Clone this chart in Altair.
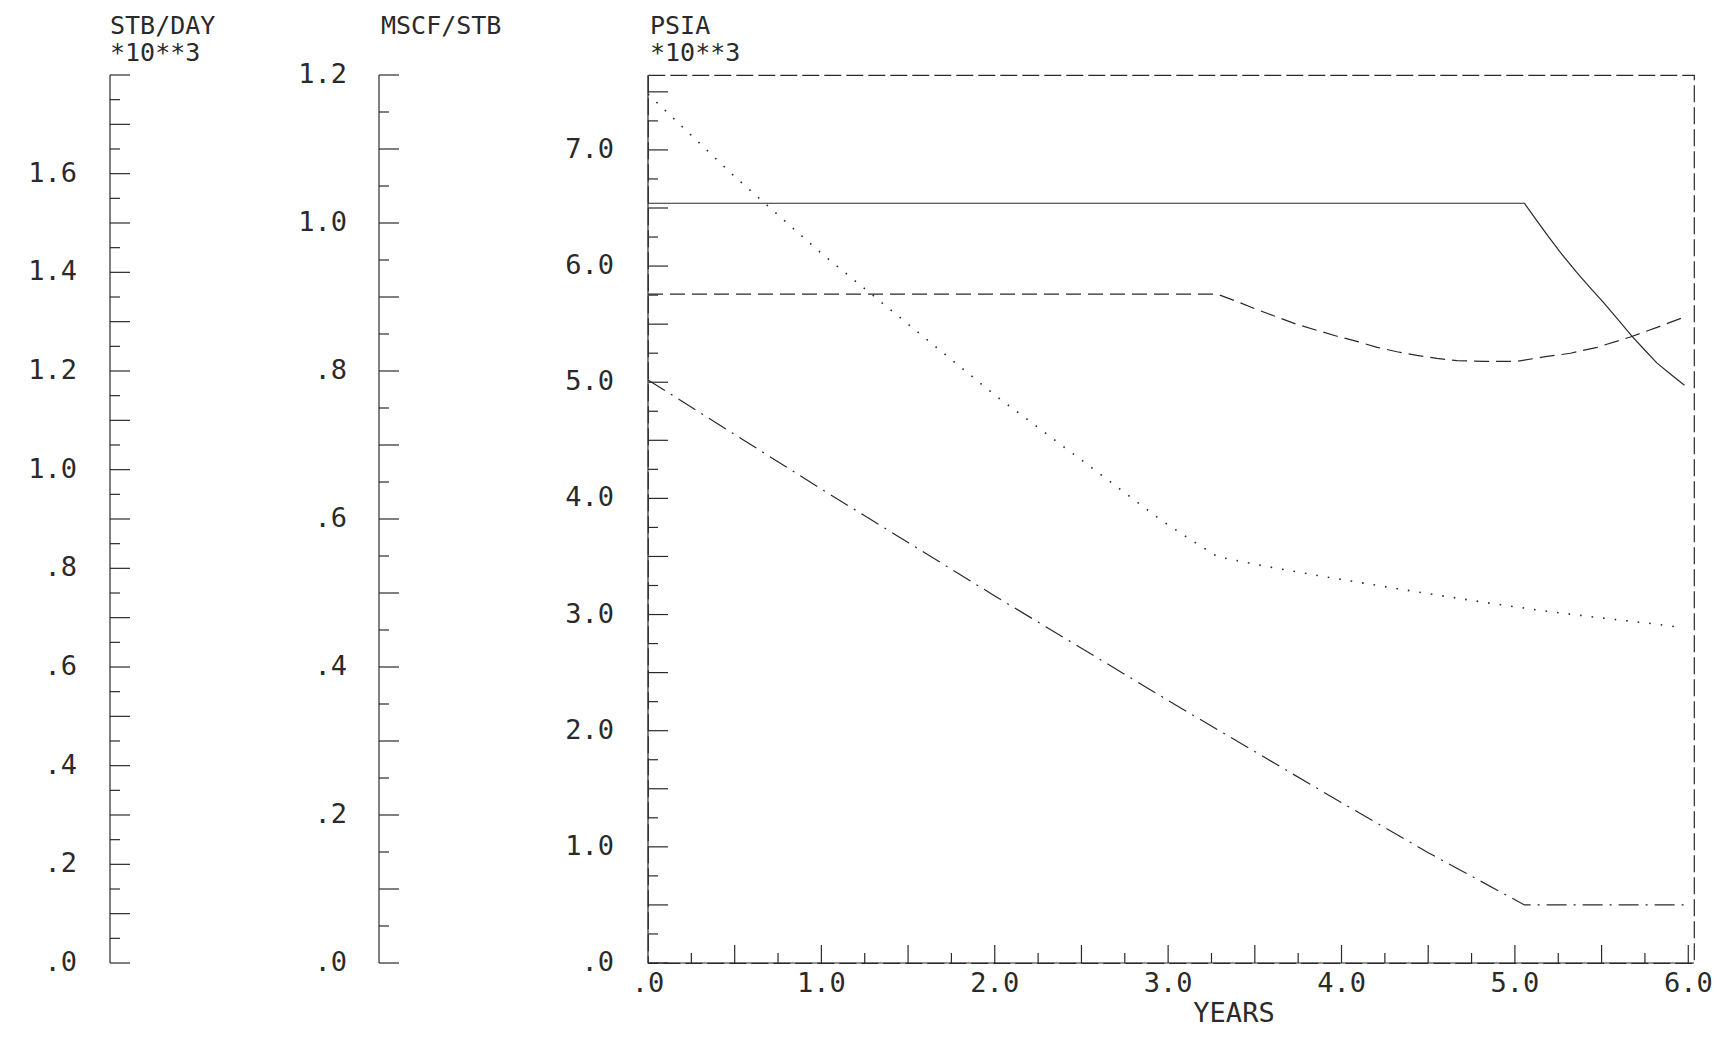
import altair as alt
import pandas as pd

# ---------------- data ----------------
# Oil rate, STB/DAY *10**3 (solid)
oil_years = [0.0, 5.055, 5.120, 5.186, 5.270, 5.359, 5.436, 5.513, 5.595, 5.676,
             5.750, 5.820, 5.900, 5.978]
oil_rate = [1.540, 1.540, 1.508, 1.476, 1.437, 1.399, 1.368, 1.338, 1.304, 1.270,
            1.242, 1.216, 1.193, 1.171]

# Gas-oil ratio, MSCF/STB (dashed)
gor_years = [0.0, 3.28, 3.397, 3.512, 3.628, 3.743, 3.858, 3.974, 4.089, 4.205,
             4.320, 4.435, 4.551, 4.666, 4.820, 5.012, 5.166, 5.320, 5.474,
             5.666, 5.820, 5.978]
gor_vals = [0.904, 0.904, 0.894, 0.883, 0.873, 0.863, 0.855, 0.847, 0.840, 0.832,
            0.826, 0.821, 0.817, 0.814, 0.813, 0.813, 0.819, 0.824, 0.832,
            0.846, 0.859, 0.873]

# Average pressure, PSIA *10**3 (dotted)
pres_years = [0.0, 0.5, 1.0, 1.5, 2.0, 2.5, 2.957, 3.120, 3.283, 3.538, 3.862,
              4.186, 4.507, 4.832, 5.155, 5.478, 5.801, 5.950]
pres_vals = [7.48, 6.77, 6.11, 5.50, 4.89, 4.33, 3.815, 3.654, 3.499, 3.422, 3.336,
             3.256, 3.178, 3.103, 3.034, 2.974, 2.920, 2.890]

# Bottom-hole pressure, PSIA *10**3 (dash-dot)
bhp_years = [0.0, 0.5, 1.0, 1.5, 2.0, 2.5, 3.0, 3.5, 4.0, 4.5, 5.055, 5.978]
bhp_vals = [5.02, 4.55, 4.08, 3.62, 3.16, 2.71, 2.26, 1.82, 1.38, 0.95, 0.50, 0.50]

# ---------------- axes: tick values and labels ----------------
x_label_values = [0, 1, 2, 3, 4, 5, 6]
x_labels = [".0", "1.0", "2.0", "3.0", "4.0", "5.0", "6.0"]
x_major_ticks = [0.5, 1.0, 1.5, 2.0, 2.5, 3.0, 3.5, 4.0, 4.5, 5.0, 5.5, 6.0]
x_minor_ticks = [0.25, 0.75, 1.25, 1.75, 2.25, 2.75, 3.25, 3.75, 4.25, 4.75, 5.25, 5.75]

psia_label_values = [0, 1, 2, 3, 4, 5, 6, 7]
psia_labels = [".0", "1.0", "2.0", "3.0", "4.0", "5.0", "6.0", "7.0"]
psia_major_ticks = [0.0, 0.5, 1.0, 1.5, 2.0, 2.5, 3.0, 3.5, 4.0, 4.5, 5.0, 5.5,
                    6.0, 6.5, 7.0, 7.5]
psia_minor_ticks = [0.25, 0.75, 1.25, 1.75, 2.25, 2.75, 3.25, 3.75, 4.25, 4.75,
                    5.25, 5.75, 6.25, 6.75, 7.25]

stb_label_values = [0.0, 0.2, 0.4, 0.6, 0.8, 1.0, 1.2, 1.4, 1.6]
stb_labels = [".0", ".2", ".4", ".6", ".8", "1.0", "1.2", "1.4", "1.6"]
stb_major_ticks = [0.0, 0.1, 0.2, 0.3, 0.4, 0.5, 0.6, 0.7, 0.8, 0.9, 1.0, 1.1,
                   1.2, 1.3, 1.4, 1.5, 1.6, 1.7, 1.8]
stb_minor_ticks = [0.05, 0.15, 0.25, 0.35, 0.45, 0.55, 0.65, 0.75, 0.85, 0.95,
                   1.05, 1.15, 1.25, 1.35, 1.45, 1.55, 1.65, 1.75]

mscf_label_values = [0.0, 0.2, 0.4, 0.6, 0.8, 1.0, 1.2]
mscf_labels = [".0", ".2", ".4", ".6", ".8", "1.0", "1.2"]
mscf_major_ticks = [0.0, 0.1, 0.2, 0.3, 0.4, 0.5, 0.6, 0.7, 0.8, 0.9, 1.0, 1.1, 1.2]
mscf_minor_ticks = [0.05, 0.15, 0.25, 0.35, 0.45, 0.55, 0.65, 0.75, 0.85, 0.95,
                    1.05, 1.15]

# ---------------- styling / layout ----------------
W, H = 1046, 888
INK = "#2a2a2a"
FONT = "DejaVu Sans Mono"
FS = 27
TFS = 25
LW = 1.2
LONG, SHORT = 20, 10
X_STB, X_MSCF = -538, -269   # positions of the two outboard axes

XS = alt.Scale(domain=[0, 6.033], nice=False, zero=False)
YS_STB = alt.Scale(domain=[0, 1.8], nice=False, zero=False)
YS_MSCF = alt.Scale(domain=[0, 1.2], nice=False, zero=False)
YS_PSIA = alt.Scale(domain=[0, 7.645], nice=False, zero=False)

one = pd.DataFrame({"a": [0]})


def series(years, vals, scale, dash=None, width=LW):
    kw = dict(color=INK, strokeWidth=width)
    if dash:
        kw["strokeDash"] = dash
    df = pd.DataFrame({"t": years, "v": vals})
    return alt.Chart(df).mark_line(**kw).encode(
        x=alt.X("t:Q", scale=XS, axis=None),
        y=alt.Y("v:Q", scale=scale, axis=None),
    )


def yticks(vals, scale, x0, length):
    df = pd.DataFrame({"v": vals})
    return alt.Chart(df).mark_rule(color=INK, strokeWidth=LW).encode(
        y=alt.Y("v:Q", scale=scale, axis=None),
        x=alt.value(x0),
        x2=alt.value(x0 + length),
    )


def ylabels(vals, labels, scale, xr):
    df = pd.DataFrame({"v": vals, "s": labels})
    return alt.Chart(df).mark_text(
        align="right", baseline="middle", font=FONT, fontSize=FS, color=INK
    ).encode(
        y=alt.Y("v:Q", scale=scale, axis=None),
        x=alt.value(xr),
        text="s:N",
    )


def vline(x0):
    return alt.Chart(one).mark_rule(color=INK, strokeWidth=LW).encode(
        x=alt.value(x0), y=alt.value(0), y2=alt.value(H)
    )


def xticks(vals, length):
    df = pd.DataFrame({"v": vals})
    return alt.Chart(df).mark_rule(color=INK, strokeWidth=LW).encode(
        x=alt.X("v:Q", scale=XS, axis=None),
        y=alt.value(H),
        y2=alt.value(H - length),
    )


def title(txt, x0, y0):
    return alt.Chart(one).mark_text(
        text=txt, align="left", baseline="alphabetic", font=FONT, fontSize=TFS, color=INK
    ).encode(x=alt.value(x0), y=alt.value(y0))


layers = [
    # data series
    series(oil_years, oil_rate, YS_STB),
    series(gor_years, gor_vals, YS_MSCF, dash=[15, 7]),
    series(pres_years, pres_vals, YS_PSIA, dash=[1.6, 10], width=1.6),
    series(bhp_years, bhp_vals, YS_PSIA, dash=[20, 7, 2, 7]),
    # PSIA axis (main plot left)
    vline(0),
    yticks(psia_major_ticks, YS_PSIA, 0, LONG),
    yticks(psia_minor_ticks, YS_PSIA, 0, SHORT),
    ylabels(psia_label_values, psia_labels, YS_PSIA, -34),
    # STB/DAY axis
    vline(X_STB),
    yticks(stb_major_ticks, YS_STB, X_STB, LONG),
    yticks(stb_minor_ticks, YS_STB, X_STB, SHORT),
    ylabels(stb_label_values, stb_labels, YS_STB, X_STB - 33),
    # MSCF/STB axis
    vline(X_MSCF),
    yticks(mscf_major_ticks, YS_MSCF, X_MSCF, LONG),
    yticks(mscf_minor_ticks, YS_MSCF, X_MSCF, SHORT),
    ylabels(mscf_label_values, mscf_labels, YS_MSCF, X_MSCF - 32),
    # x axis
    alt.Chart(one).mark_rule(color=INK, strokeWidth=LW).encode(
        x=alt.value(0), x2=alt.value(W), y=alt.value(H)
    ),
    xticks(x_major_ticks, 18),
    xticks(x_minor_ticks, 10),
    alt.Chart(pd.DataFrame({"v": x_label_values, "s": x_labels})).mark_text(
        align="center", baseline="middle", font=FONT, fontSize=FS, color=INK
    ).encode(x=alt.X("v:Q", scale=XS, axis=None), y=alt.value(909), text="s:N"),
    alt.Chart(one).mark_text(
        text="YEARS", align="center", baseline="middle", font=FONT, fontSize=FS, color=INK
    ).encode(x=alt.value(586), y=alt.value(939)),
    # axis titles
    title("STB/DAY", X_STB, -41),
    title("*10**3", X_STB, -14),
    title("MSCF/STB", X_MSCF + 2, -41),
    title("PSIA", 2, -41),
    title("*10**3", 2, -14),
]

chart = (
    alt.layer(*layers)
    .resolve_scale(y="independent")
    .properties(
        width=W,
        height=H,
        autosize=alt.AutoSizeParams(type="none"),
        padding={"left": 648, "top": 75, "right": 38, "bottom": 74},
        background="white",
    )
    .configure_view(stroke=INK, strokeDash=[17, 5], strokeWidth=LW)
)

chart.save("out.html", embed_options={"renderer": "svg", "actions": False})
